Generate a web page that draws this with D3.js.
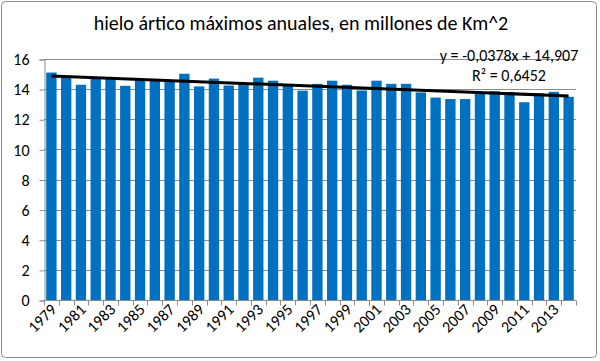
<!DOCTYPE html>
<html>
<head>
<meta charset="utf-8">
<script src="https://cdn.jsdelivr.net/npm/d3@7"></script>
<style>
  body { margin: 0; background: #fff; }
  text { font-family: Carlito, "Open Sans", "Liberation Sans", sans-serif; fill: #000; }
</style>
</head>
<body>
<div id="chart"></div>
<script>
'use strict'

// Data
const years = d3.range(1979, 2015);
const values = [15.1, 14.8, 14.29, 14.75, 14.7, 14.22, 14.6, 14.6, 14.55, 15.02,
                14.18, 14.7, 14.24, 14.38, 14.76, 14.56, 14.22, 13.9, 14.35, 14.56,
                14.29, 13.91, 14.56, 14.35, 14.35, 13.78, 13.44, 13.34, 13.34, 13.78,
                13.86, 13.8, 13.13, 13.72, 13.82, 13.49];
const yTicks = [0, 2, 4, 6, 8, 10, 12, 14, 16];
const trend = {slope: -0.0378, intercept: 14.907};
const title = 'hielo ártico máximos anuales, en millones de Km^2';

const width = 600, height = 361;
const m = {left: 44, right: 24, top: 59, bottom: 61};

let svg = d3.select('#chart').append('svg')
  .attr('width', width).attr('height', height);

// Outer border
svg.append('rect')
  .attr('x', 1.5).attr('y', 1.5)
  .attr('width', width - 5).attr('height', height - 5)
  .attr('rx', 4)
  .attr('fill', '#fff').attr('stroke', '#8c8c8c').attr('stroke-width', 1);

let x = d3.scaleBand()
  .domain(years)
  .range([m.left, width - m.right])
  .paddingInner(0.3).paddingOuter(0.15);

let y = d3.scaleLinear()
  .domain([0, 16])
  .range([height - m.bottom, m.top]);

// Gridlines
svg.append('g')
  .selectAll('line')
  .data(yTicks.slice(1))
  .enter()
    .append('line')
      .attr('x1', m.left).attr('x2', width - m.right)
      .attr('y1', (d) => Math.round(y(d)) + 0.5)
      .attr('y2', (d) => Math.round(y(d)) + 0.5)
      .attr('stroke', '#8c8c8c');

// Y axis
let yAxis = svg.append('g')
  .attr('transform', `translate(${m.left + 0.5},0.5)`)
  .call(d3.axisLeft(y).tickValues(yTicks).tickSize(5).tickPadding(10));
yAxis.select('.domain').attr('stroke', '#8c8c8c');
yAxis.selectAll('.tick line').attr('stroke', '#8c8c8c');
yAxis.selectAll('text').attr('font-size', 16).attr('fill', '#000');

// Bars
svg.append('g')
  .selectAll('rect')
  .data(values)
  .enter()
    .append('rect')
      .attr('x', (d, i) => x(years[i]))
      .attr('y', (d) => y(d))
      .attr('width', x.bandwidth())
      .attr('height', (d) => y(0) - y(d))
      .attr('fill', '#0070c0');

// X axis baseline with ticks between categories
let base = Math.round(y(0)) + 0.5;
let plotW = width - m.right - m.left;
svg.append('line')
  .attr('x1', m.left).attr('x2', width - m.right)
  .attr('y1', base).attr('y2', base)
  .attr('stroke', '#8c8c8c');
svg.append('g')
  .selectAll('line')
  .data(d3.range(years.length + 1))
  .enter()
    .append('line')
      .attr('x1', (d) => Math.round(m.left + d * plotW / years.length) + 0.5)
      .attr('x2', (d) => Math.round(m.left + d * plotW / years.length) + 0.5)
      .attr('y1', base).attr('y2', base + 5)
      .attr('stroke', '#8c8c8c');

// X labels, every other year, rotated
svg.append('g')
  .selectAll('text')
  .data(years.filter((d, i) => i % 2 == 0))
  .enter()
    .append('text')
      .attr('font-size', 16)
      .attr('text-anchor', 'end')
      .attr('transform', (d) => `translate(${x(d) + x.bandwidth() / 2 + 6},${base + 10}) rotate(-45)`)
      .text((d) => d);

// Trendline
let xc = (i) => x(years[i]) + x.bandwidth() / 2;
let n = years.length;
svg.append('line')
  .attr('x1', xc(0)).attr('y1', y(trend.slope * 1 + trend.intercept))
  .attr('x2', xc(n - 1)).attr('y2', y(trend.slope * n + trend.intercept))
  .attr('stroke', '#000').attr('stroke-width', 3);

// Trend equation
svg.append('text')
  .attr('x', 509).attr('y', 61)
  .attr('text-anchor', 'middle')
  .attr('font-size', 16)
  .text('y = -0,0378x + 14,907');
svg.append('text')
  .attr('x', 509).attr('y', 81)
  .attr('text-anchor', 'middle')
  .attr('font-size', 16)
  .text('R² = 0,6452');

// Title
svg.append('text')
  .attr('x', 301).attr('y', 30)
  .attr('text-anchor', 'middle')
  .attr('font-size', 20)
  .text(title);
</script>
</body>
</html>
